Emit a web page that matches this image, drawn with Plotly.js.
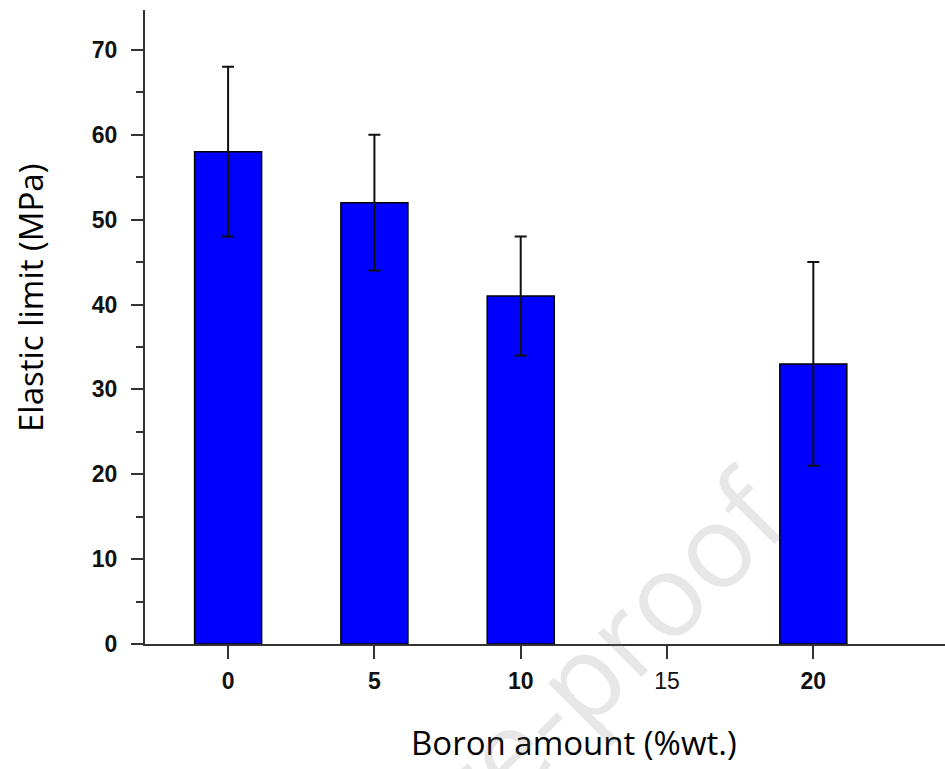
<!DOCTYPE html>
<html>
<head>
<meta charset="utf-8">
<script src="https://cdn.plot.ly/plotly-3.0.1.min.js"></script>
<style>html,body{margin:0;padding:0;background:#fff;}#chart{width:945px;height:769px;}</style>
</head>
<body>
<div id="chart"></div>
<script>
// Data
const boronAmount = [0, 5, 10, 20];
const elasticLimit = [58, 52, 41, 33];
const errorValues = [10, 8, 7, 12];
const xTickVals = [0, 5, 10, 15, 20];
const xTickText = ['<b>0</b>', '<b>5</b>', '<b>10</b>', '15', '<b>20</b>'];
const yTickVals = [0, 10, 20, 30, 40, 50, 60, 70];
const yTickText = ['<b>0</b>', '<b>10</b>', '<b>20</b>', '<b>30</b>', '<b>40</b>', '<b>50</b>', '<b>60</b>', '<b>70</b>'];

const trace = {
  type: 'bar',
  x: boronAmount,
  y: elasticLimit,
  width: 2.29,
  marker: {color: '#0000ff', line: {color: '#000', width: 1.5}},
  error_y: {type: 'data', array: errorValues, visible: true, color: '#111', thickness: 2, width: 6},
  hoverinfo: 'x+y'
};

const layout = {
  width: 945, height: 769,
  margin: {l: 145, r: 0, t: 10, b: 125},
  paper_bgcolor: '#fff', plot_bgcolor: '#fff',
  showlegend: false,
  font: {family: 'Liberation Sans, Arial, sans-serif', color: '#000'},
  xaxis: {
    range: [-2.84, 24.5],
    tickmode: 'array', tickvals: xTickVals, ticktext: xTickText,
    ticks: 'outside', ticklen: 13, tickwidth: 2, tickcolor: '#333',
    showline: true, linecolor: '#333', linewidth: 2,
    showgrid: false, zeroline: false,
    tickfont: {size: 23, family: 'Liberation Sans, Arial, sans-serif', color: '#111'},
    ticklabelstandoff: 2
  },
  yaxis: {
    range: [0, 74.7],
    tickmode: 'array', tickvals: yTickVals, ticktext: yTickText,
    ticks: 'outside', ticklen: 12, tickwidth: 2, tickcolor: '#333',
    minor: {dtick: 5, tick0: 0, ticks: 'outside', ticklen: 7, tickwidth: 2, tickcolor: '#333', showgrid: false},
    showline: true, linecolor: '#333', linewidth: 2,
    showgrid: false, zeroline: false,
    tickfont: {size: 23, family: 'Liberation Sans, Arial, sans-serif', color: '#111'},
    ticklabelstandoff: 9
  },
  annotations: [
    {text: 'Boron amount (%wt.)', xref: 'paper', yref: 'paper', x: (574 - 145) / 800, y: (644 - 742) / 634,
     showarrow: false, xanchor: 'center', yanchor: 'middle',
     font: {family: 'Open Sans, sans-serif', size: 33, color: '#000'}},
    {text: 'Elastic limit (MPa)', xref: 'paper', yref: 'paper', x: (31 - 145) / 800, y: (644 - 298) / 634,
     showarrow: false, xanchor: 'center', yanchor: 'middle', textangle: -90,
     font: {family: 'Open Sans, sans-serif', size: 33, color: '#000'}},
    {text: 'Journal Pre-proof', xref: 'paper', yref: 'paper', x: (433 - 145) / 800, y: (644 - 822) / 634,
     showarrow: false, xanchor: 'center', yanchor: 'middle', textangle: -45,
     font: {family: 'Open Sans, sans-serif', size: 115, color: 'rgba(120,120,120,0.18)'}}
  ]
};

Plotly.newPlot('chart', [trace], layout, {displayModeBar: false, staticPlot: true});
</script>
</body>
</html>
